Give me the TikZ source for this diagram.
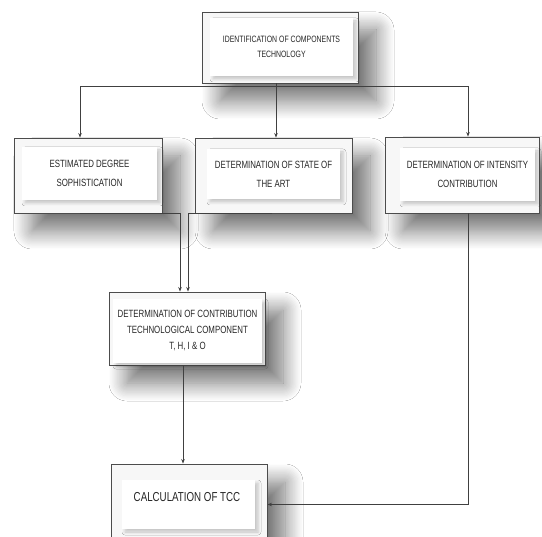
\documentclass[tikz,border=0pt]{standalone}
\usepackage{fontspec}
\newfontfamily\nf[FakeStretch=0.75]{Liberation Sans}
\usetikzlibrary{arrows.meta,shadows.blur}
\tikzset{
 outerbox/.style={draw=black!70, line width=0.9pt, fill=gray!6, rectangle, inner sep=0pt,
   blur shadow={shadow xshift=18pt, shadow yshift=-18pt, shadow blur radius=18pt, shadow blur steps=16, shadow opacity=55}},
 innerbox/.style={fill=white, rectangle, inner sep=0pt, align=center, text=black!85,
   blur shadow={shadow xshift=3pt, shadow yshift=-3pt, shadow blur radius=3pt, shadow opacity=20}},
 lbl/.style={align=center, text=black!85, inner sep=0pt},
 conn/.style={draw=black!75, line width=0.8pt},
 arr/.style={conn, -{Stealth[length=4.5pt,width=3.5pt]}},
 smallf/.style={font=\nf\fontsize{9.2}{15}\selectfont},
 midf/.style={font=\nf\fontsize{10.5}{19}\selectfont},
 midg/.style={font=\nf\fontsize{10.5}{16}\selectfont},
 bigf/.style={font=\nf\fontsize{13}{16}\selectfont},
}
\begin{document}
\begin{tikzpicture}[x=1pt,y=-1pt]
\useasboundingbox (0,0) rectangle (542,537);
\clip (0,0) rectangle (542,537);
\fill[white] (0,0) rectangle (542,537);
% outer boxes
\node[outerbox, minimum width=156pt, minimum height=71pt] (top) at (280,47.5) {};
\node[innerbox, smallf, minimum width=143pt, minimum height=58pt] (topin) at (281.5,47) {IDENTIFICATION OF COMPONENTS\\TECHNOLOGY};
\node[outerbox, minimum width=148pt, minimum height=75pt] (b1) at (88,175.5) {};
\node[innerbox, midf, minimum width=135pt, minimum height=53pt] (b1in) at (89.5,173.5) {ESTIMATED DEGREE\\SOPHISTICATION};
\node[outerbox, minimum width=157pt, minimum height=75pt] (b2) at (273.5,175.5) {};
\node[innerbox, midf, minimum width=133pt, minimum height=50pt] (b2in) at (273.5,174) {DETERMINATION OF STATE OF\\THE ART};
\node[outerbox, minimum width=154pt, minimum height=76pt] (b3) at (462,175) {};
\node[innerbox, midf, minimum width=135pt, minimum height=53pt] (b3in) at (467.5,174.5) {DETERMINATION OF INTENSITY\\CONTRIBUTION};
\node[outerbox, minimum width=156pt, minimum height=73pt] (mid) at (187,328.5) {};
\node[innerbox, midg, minimum width=149pt, minimum height=64pt] (midin) at (187.5,331) {DETERMINATION OF CONTRIBUTION\\TECHNOLOGICAL COMPONENT\\T, H, I \& O};
\node[outerbox, minimum width=156pt, minimum height=81pt] (bot) at (189,504.5) {};
\node[innerbox, minimum width=133pt, minimum height=49pt] (botin) at (188.5,504.5) {};
\node[lbl, bigf] (bottxt) at (187,497) {CALCULATION OF TCC};
% connectors
\draw[arr] ([xshift=-4pt]top.south) -- ([xshift=2.5pt]b2.north);
\draw[arr] ([xshift=-4pt]top.south) -- ++(0,3) -| ([xshift=-8pt]b1.north);
\draw[arr] ([xshift=-4pt]top.south) -- ++(0,3) -| ([xshift=6pt]b3.north);
\draw[arr] ([xshift=-8pt]b1.south) -| ([xshift=-7pt]mid.north);
\draw[arr] ([xshift=-1.5pt]b2.south) -| ([xshift=1pt]mid.north);
\draw[arr] ([xshift=-4pt]mid.south) -- ([xshift=-6pt]bot.north);
\draw[arr] ([xshift=6pt]b3.south) |- (bot.east);
\end{tikzpicture}
\end{document}
